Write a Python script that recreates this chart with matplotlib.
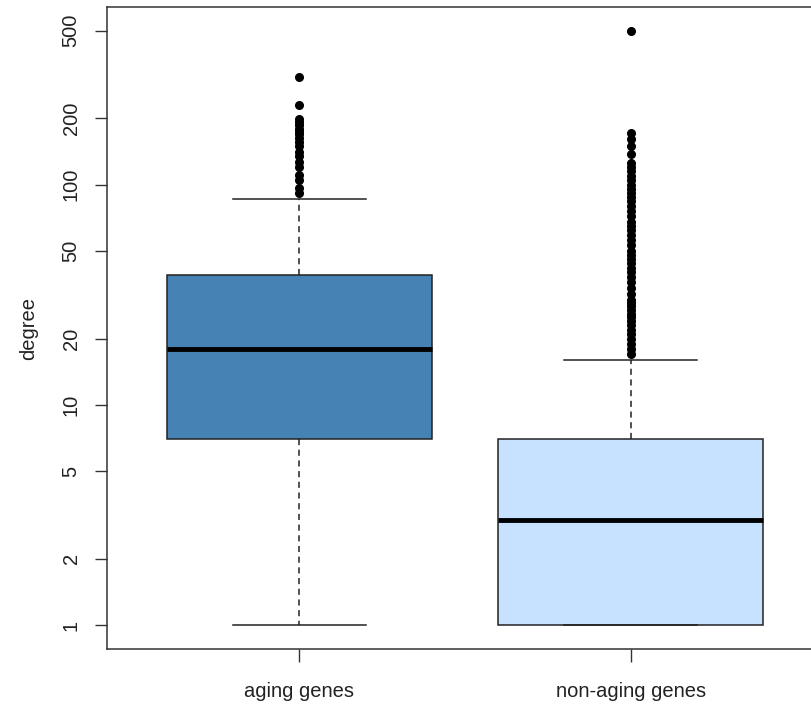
import matplotlib
matplotlib.use("Agg")
import matplotlib.pyplot as plt

plt.rcParams['font.family'] = ['Liberation Sans', 'DejaVu Sans']

categories = ["aging genes", "non-aging genes"]
q1 = [7, 1]
medians = [18, 3]
q3 = [39, 7]
whisker_low = [1, 1]
whisker_high = [86, 16]
outliers_aging = [92, 97, 105, 111, 121, 127, 135, 141, 150, 157, 163, 170,
                  174, 180, 186, 192, 198, 229, 310]
outliers_nonaging = [17, 18, 19, 20, 21, 22, 23, 24, 25, 26, 27, 28, 29, 30,
                     32, 34, 36, 38, 40, 42, 44, 46, 48, 50, 53, 56, 59, 62,
                     65, 68, 72, 76, 80, 84, 88, 92, 96, 100, 105, 110, 115,
                     120, 126, 138, 150, 161, 172, 500]
outliers = [outliers_aging, outliers_nonaging]
box_colors = ["#4682B4", "#C6E2FF"]
y_ticks = [1, 2, 5, 10, 20, 50, 100, 200, 500]

stats = []
for i, name in enumerate(categories):
    stats.append(dict(label=name, med=medians[i], q1=q1[i], q3=q3[i],
                      whislo=whisker_low[i], whishi=whisker_high[i],
                      fliers=outliers[i]))

fig = plt.figure(figsize=(8.12, 7.04), dpi=100)
ax = fig.add_axes([107/812, 1 - 649/704, (823-107)/812, (649-7)/704])

bp = ax.bxp(stats, positions=[1, 2], widths=0.8, patch_artist=True,
            boxprops=dict(edgecolor="#222222", linewidth=1.1),
            medianprops=dict(color="black", linewidth=3.5),
            whiskerprops=dict(color="#222222", linewidth=1.1, linestyle=(0, (4, 3))),
            capprops=dict(color="#222222", linewidth=1.1),
            capwidths=0.4,
            flierprops=dict(marker="o", markerfacecolor="black",
                            markeredgecolor="black", markersize=5.5,
                            linestyle="none"))
for patch, c in zip(bp["boxes"], box_colors):
    patch.set_facecolor(c)

ax.set_yscale("log")
ax.set_ylim(10**-0.108, 10**2.807)
ax.set_xlim(0.42, 2.58)
ax.set_yticks(y_ticks)
ax.set_yticklabels([str(t) for t in y_ticks], rotation=90, va="center")
ax.minorticks_off()
ax.set_xticks([1, 2])
ax.set_xticklabels(categories)
ax.tick_params(axis="both", direction="out", length=9, width=1, color="#333333",
               labelsize=14.5, labelcolor="#222222")
ax.tick_params(axis="y", pad=10)
ax.tick_params(axis="x", pad=15)
ax.set_ylabel("degree", fontsize=14.5, color="#222222", labelpad=17)
for s in ax.spines.values():
    s.set_color("#333333")
    s.set_linewidth(1.1)

fig.savefig("out.png", dpi=100)
